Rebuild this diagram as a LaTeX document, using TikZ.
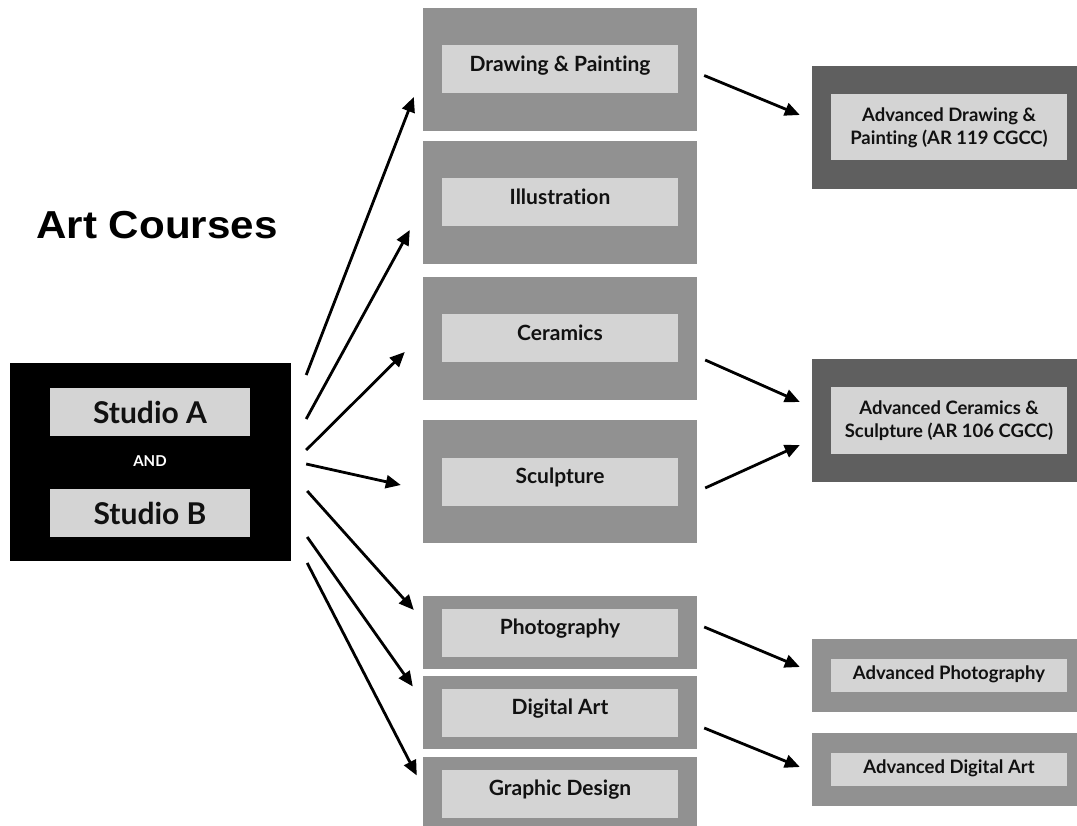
\documentclass[tikz,border=0pt]{standalone}
\usepackage{fontspec}
\setmainfont{Lato}[Ligatures=NoCommon]
\newfontfamily\headfont{Liberation Sans}
\usetikzlibrary{calc,arrows.meta}
\definecolor{boxgray}{HTML}{919191}
\definecolor{boxdark}{HTML}{5F5F5F}
\definecolor{tagfill}{HTML}{D4D4D4}
\definecolor{ink}{HTML}{111111}
\tikzset{
studio/.style={rectangle,fill=black,minimum width=281pt,minimum height=198pt,inner sep=0pt},
stag/.style={rectangle,fill=tagfill,minimum width=200pt,minimum height=48pt,inner sep=0pt,
  text=ink,font=\bfseries\fontsize{30}{36}\selectfont},
course/.style={rectangle,fill=boxgray,minimum width=274pt,minimum height=123pt,inner sep=0pt},
short/.style={minimum height=73pt},
advanced/.style={course,fill=boxdark},
tag/.style={rectangle,fill=tagfill,minimum width=236pt,minimum height=48pt,inner sep=0pt,
  text=ink,font=\bfseries\fontsize{21}{25}\selectfont,text height=0.7em,text depth=0.28em},
advtag/.style={rectangle,fill=tagfill,minimum width=236pt,minimum height=33pt,inner sep=0pt,
  text=ink,align=center,font=\bfseries\fontsize{18.5}{23}\selectfont},
oneline/.style={text height=0.72em,text depth=0pt},
arr/.style={line width=2.8pt,-{Triangle[length=15pt,width=13pt]}},
}
\begin{document}
\begin{tikzpicture}[x=1pt,y=-1pt]
\useasboundingbox (0,0) rectangle (1077,826);

\node[font=\headfont\bfseries\fontsize{39}{44}\selectfont] (title) at (157,225)
  {\scalebox{1.08}[1]{Art Courses}};

% starting block
\node[studio] (studio) at (150.5,462) {};
\node[stag] (studioA) at (150,412) {Studio A};
\node[stag] (studioB) at (150,513) {Studio B};
\node[text=white,font=\bfseries\fontsize{15}{18}\selectfont] (and) at (150,461) {AND};

% first level courses
\node[course] (draw) at (560,69.5) {};
\node[tag] (drawT) at (draw) {Drawing \& Painting};
\node[course] (illus) at (560,202.5) {};
\node[tag] (illusT) at (illus) {Illustration};
\node[course] (ceram) at (560,338.5) {};
\node[tag] (ceramT) at (ceram) {Ceramics};
\node[course] (sculpt) at (560,481.5) {};
\node[tag] (sculptT) at (sculpt) {Sculpture};
\node[course,short] (photo) at (560,632.5) {};
\node[tag] (photoT) at (photo) {Photography};
\node[course,short] (digital) at (560,712.5) {};
\node[tag] (digitalT) at (digital) {Digital Art};
\node[course,short] (graphic) at (560,793.5) {};
\node[tag] (graphicT) at (graphic) {Graphic Design};

% advanced courses
\node[advanced] (advDraw) at (949,127.5) {};
\node[advtag,minimum height=66pt] (advDrawT) at (advDraw)
  {Advanced Drawing \&\\Painting (AR 119 CGCC)};
\node[advanced] (advCeram) at (949,420.5) {};
\node[advtag,minimum height=66pt] (advCeramT) at (advCeram)
  {Advanced Ceramics \&\\Sculpture (AR 106 CGCC)};
\node[course,short] (advPhoto) at (949,675.5) {};
\node[advtag,oneline] (advPhotoT) at (advPhoto) {Advanced Photography};
\node[course,short] (advDigital) at (949,769.5) {};
\node[advtag,oneline] (advDigitalT) at (advDigital) {Advanced Digital Art};

% studio to courses
\draw[arr] ($(studio.east)+(15,-87)$) -- ($(draw.west)+(-9,27.5)$);
\draw[arr] ($(studio.east)+(15,-43)$) -- ($(illus.west)+(-13,27.5)$);
\draw[arr] ($(studio.east)+(15,-12)$) -- ($(ceram.west)+(-18,13.5)$);
\draw[arr] ($(studio.east)+(15,2)$) -- ($(sculpt.west)+(-22,3.5)$);
\draw[arr] ($(studio.east)+(16,29)$) -- ($(photo.west)+(-9,-22.5)$);
\draw[arr] ($(studio.east)+(16,75)$) -- ($(digital.west)+(-10,-26)$);
\draw[arr] ($(studio.east)+(16,101)$) -- ($(graphic.west)+(-6,-18)$);

% courses to advanced
\draw[arr] ($(draw.east)+(7,6)$) -- ($(advDraw.west)+(-12,-12.5)$);
\draw[arr] ($(ceram.east)+(8,21.5)$) -- ($(advCeram.west)+(-12,-18.5)$);
\draw[arr] ($(sculpt.east)+(8,6.5)$) -- ($(advCeram.west)+(-12,24.5)$);
\draw[arr] ($(photo.east)+(7,-5.5)$) -- ($(advPhoto.west)+(-12,-8.5)$);
\draw[arr] ($(digital.east)+(7,15.5)$) -- ($(advDigital.west)+(-12,-2.5)$);
\end{tikzpicture}
\end{document}
